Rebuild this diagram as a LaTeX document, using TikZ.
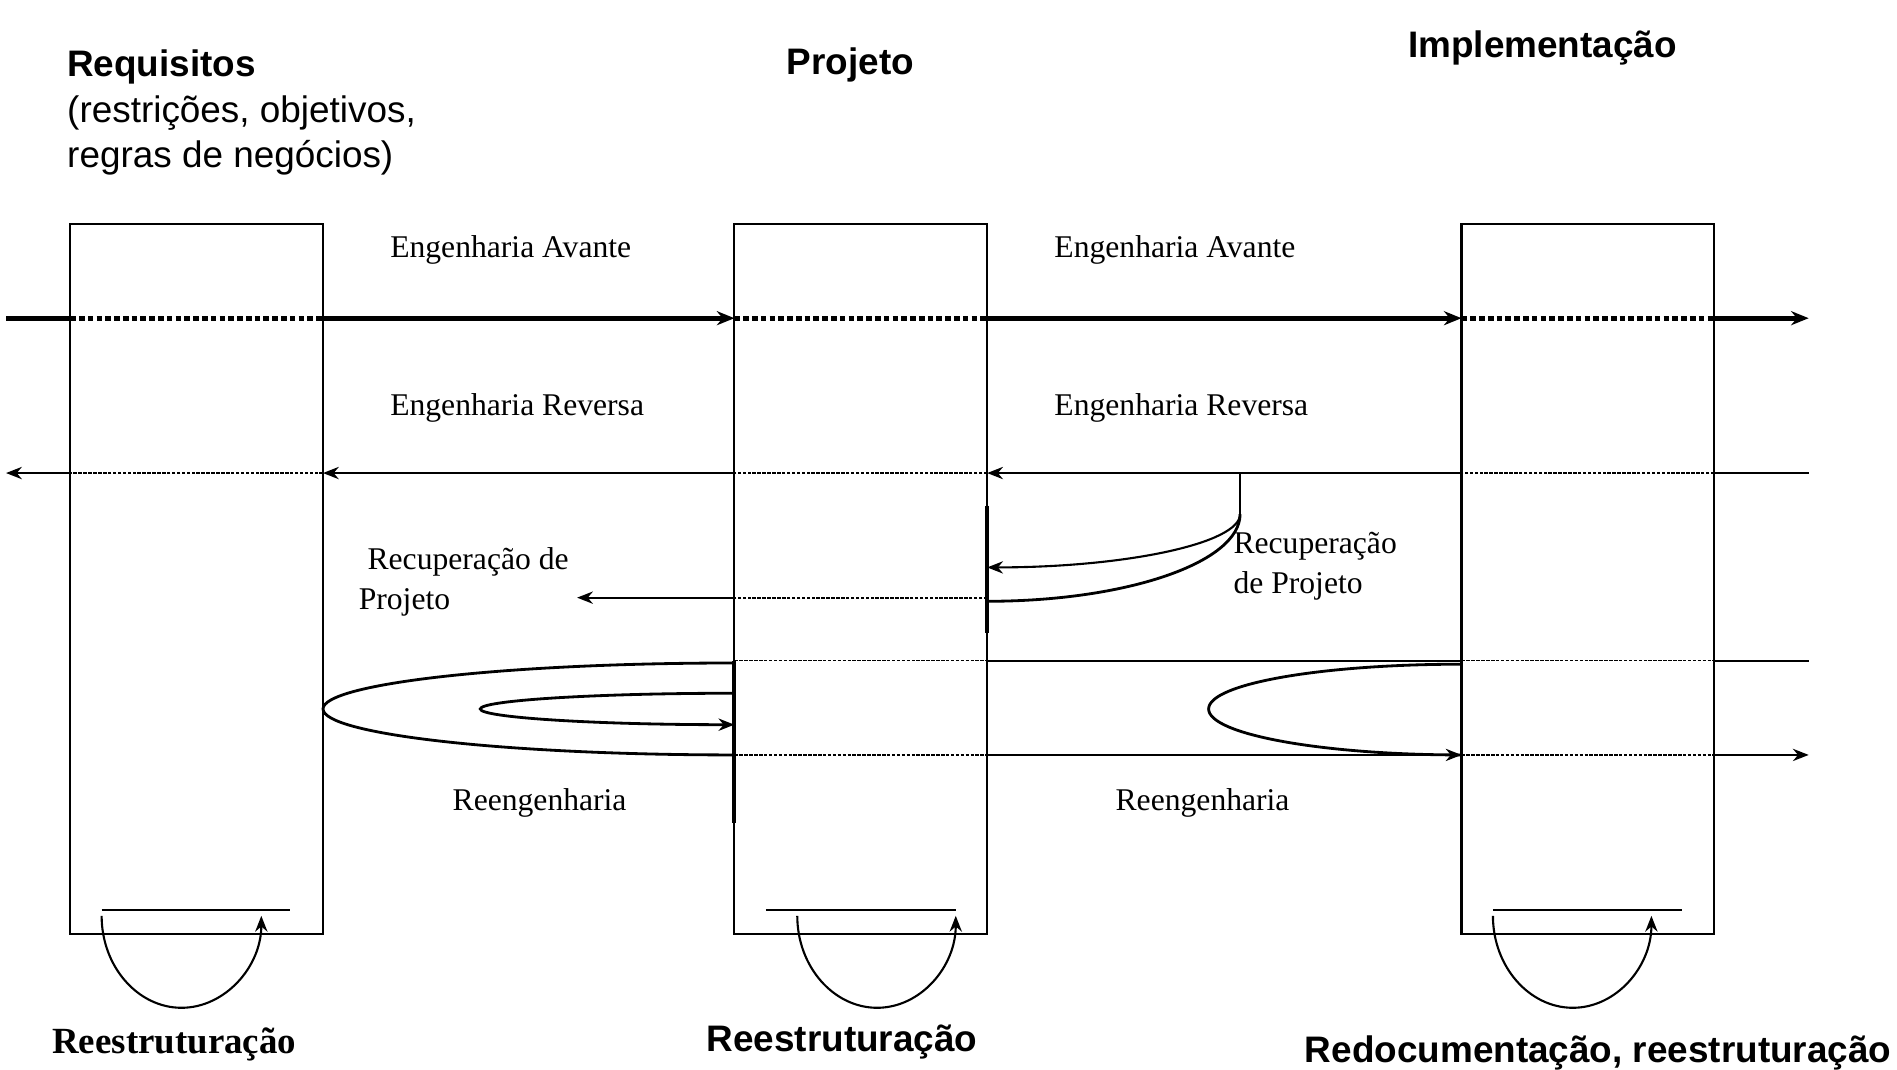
\documentclass[tikz,border=0pt]{standalone}
\usepackage{fontspec}
\setmainfont{Liberation Serif}
\setsansfont{Liberation Sans}
\usetikzlibrary{positioning}
\usetikzlibrary{arrows.meta}
\tikzset{
  etapa/.style={rectangle,draw,line width=0.6pt,inner sep=0pt,outer sep=0pt,
                minimum width=2.528cm,minimum height=7.10cm},
  titulo/.style={font=\sffamily\bfseries\fontsize{10.5}{12.9}\selectfont,inner sep=0pt},
  titulobaixo/.style={font=\bfseries\fontsize{10.5}{12.9}\selectfont,inner sep=0pt},
  rotulo/.style={font=\fontsize{9}{11.2}\selectfont,anchor=west,align=left,inner sep=0pt},
  avante/.style={line width=1.5pt,-{Stealth[length=5pt,width=4pt]}},
  avanteseg/.style={line width=1.5pt},
  avantepont/.style={line width=1.5pt,dash pattern=on 1.6pt off 0.9pt},
  fluxo/.style={line width=0.6pt,-{Stealth[length=4.5pt,width=3.5pt]}},
  fluxoseg/.style={line width=0.6pt},
  fluxopont/.style={line width=0.5pt,dash pattern=on 1pt off 0.4pt},
  curva/.style={line width=0.8pt},
  borda/.style={line width=1.1pt},
}
\begin{document}
\begin{tikzpicture}[x=0.012098cm,y=-0.012098cm]
    \useasboundingbox (0,0) rectangle (1568,884);

    % Etapas
    \node[etapa] (req)  at (162.5,478.5) {};
    \node[etapa] (proj) at (711.5,478.5) {};
    \node[etapa] (impl) at (1312.5,478.5) {};

    % Titulos
    \node[titulo,anchor=west,align=left,font=\sffamily\fontsize{10.5}{12.9}\selectfont]
        (reqtxt) at (55,93) {\textbf{Requisitos}\\(restrições, objetivos,\\regras de negócios)};
    \node[titulo] (projtxt) at (703,54) {Projeto};
    \node[titulo] (impltxt) at (1275,40) {Implementação};

    % Pontos das linhas
    \coordinate (av0) at (5,263);
    \coordinate (av1) at (1495,263);
    \coordinate (rv0) at (1495,391);
    \coordinate (rv1) at (5,391);
    \coordinate (rc)  at (1025,391);
    \coordinate (rcb) at (1025,425);
    \coordinate (rca) at (816,469);
    \coordinate (rcc) at (816,497);
    \coordinate (rp0) at (816,494);
    \coordinate (rp1) at (477,494);
    \coordinate (re0) at (1495,546);
    \coordinate (re1) at (1495,624);

    % Engenharia avante
    \draw[avanteseg]  (av0) -- (req.west|-av0);
    \draw[avantepont] (req.west|-av0) -- (req.east|-av0);
    \draw[avante]     (req.east|-av0) -- (proj.west|-av0);
    \draw[avantepont] (proj.west|-av0) -- (proj.east|-av0);
    \draw[avante]     (proj.east|-av0) -- (impl.west|-av0);
    \draw[avantepont] (impl.west|-av0) -- (impl.east|-av0);
    \draw[avante]     (impl.east|-av0) -- (av1);

    % Engenharia reversa
    \draw[fluxoseg]  (rv0) -- (impl.east|-rv0);
    \draw[fluxopont] (impl.east|-rv0) -- (impl.west|-rv0);
    \draw[fluxo]     (impl.west|-rv0) -- (proj.east|-rv0);
    \draw[fluxopont] (proj.east|-rv0) -- (proj.west|-rv0);
    \draw[fluxo]     (proj.west|-rv0) -- (req.east|-rv0);
    \draw[fluxopont] (req.east|-rv0) -- (req.west|-rv0);
    \draw[fluxo]     (req.west|-rv0) -- (rv1);

    % Recuperacao de projeto
    \draw[fluxoseg] (rc) -- (rcb);
    \draw[fluxo] (rcb) .. controls (1025,449) and (931,469) .. (rca);
    \draw[curva] (rcb) .. controls (1025,465) and (931,497) .. (rcc);
    \draw[borda] (816,418) -- (816,523);
    \draw[fluxopont] (rp0) -- (proj.west|-rp0);
    \draw[fluxo] (proj.west|-rp0) -- (rp1);

    % Reengenharia
    \draw[fluxopont] (proj.west|-re0) -- (proj.east|-re0);
    \draw[fluxoseg]  (proj.east|-re0) -- (impl.west|-re0);
    \draw[fluxopont] (impl.west|-re0) -- (impl.east|-re0);
    \draw[fluxoseg]  (impl.east|-re0) -- (re0);
    \draw[fluxopont] (proj.west|-re1) -- (proj.east|-re1);
    \draw[fluxo]     (proj.east|-re1) -- (impl.west|-re1);
    \draw[fluxopont] (impl.west|-re1) -- (impl.east|-re1);
    \draw[fluxo]     (impl.east|-re1) -- (re1);
    \draw[curva] (607,548) .. controls (419,548) and (267,565) .. (267,586)
                 .. controls (267,607) and (419,624) .. (607,624);
    \draw[curva,-{Stealth[length=4.5pt,width=3.5pt]}]
                 (607,573) .. controls (491,573) and (397,579) .. (397,586)
                 .. controls (397,593) and (491,599) .. (607,599);
    \draw[curva] (1208,549) .. controls (1093,549) and (999,565) .. (999,586)
                 .. controls (999,607) and (1093,624) .. (1208,624);
    \draw[borda] (607,546) -- (607,680);
    \draw[borda] (1208,546) -- (1208,705);

    % Reestruturacao
    \draw[fluxoseg] (84,752) -- (240,752);
    \draw[fluxo] (84,757) .. controls (84,799) and (114,833) .. (150,833)
                 .. controls (186,833) and (216,799) .. (216,757);
    \draw[fluxoseg] (633,752) -- (790,752);
    \draw[fluxo] (659,757) .. controls (659,799) and (689,833) .. (725,833)
                 .. controls (761,833) and (790,799) .. (790,757);
    \draw[fluxoseg] (1234,752) -- (1390,752);
    \draw[fluxo] (1234,757) .. controls (1234,799) and (1264,833) .. (1300,833)
                 .. controls (1336,833) and (1365,799) .. (1365,757);

    % Rotulos
    \node[rotulo] (ava1) at (322,207) {Engenharia Avante};
    \node[rotulo] (ava2) at (871,207) {Engenharia Avante};
    \node[rotulo] (rev1) at (322,337) {Engenharia Reversa};
    \node[rotulo] (rev2) at (871,337) {Engenharia Reversa};
    \node[rotulo] (rec1) at (296,481) {\hspace*{2.5pt}Recuperação de\\Projeto};
    \node[rotulo] (rec2) at (1019,468) {Recuperação\\de Projeto};
    \node[rotulo,anchor=center] (ree1) at (446,664) {Reengenharia};
    \node[rotulo,anchor=center] (ree2) at (994,664) {Reengenharia};

    % Rotulos de baixo
    \node[titulobaixo] (rst1) at (144,863) {Reestruturação};
    \node[titulo] (rst2) at (696,861) {Reestruturação};
    \node[titulo] (rst3) at (1321,870) {Redocumentação, reestruturação};
\end{tikzpicture}
\end{document}
